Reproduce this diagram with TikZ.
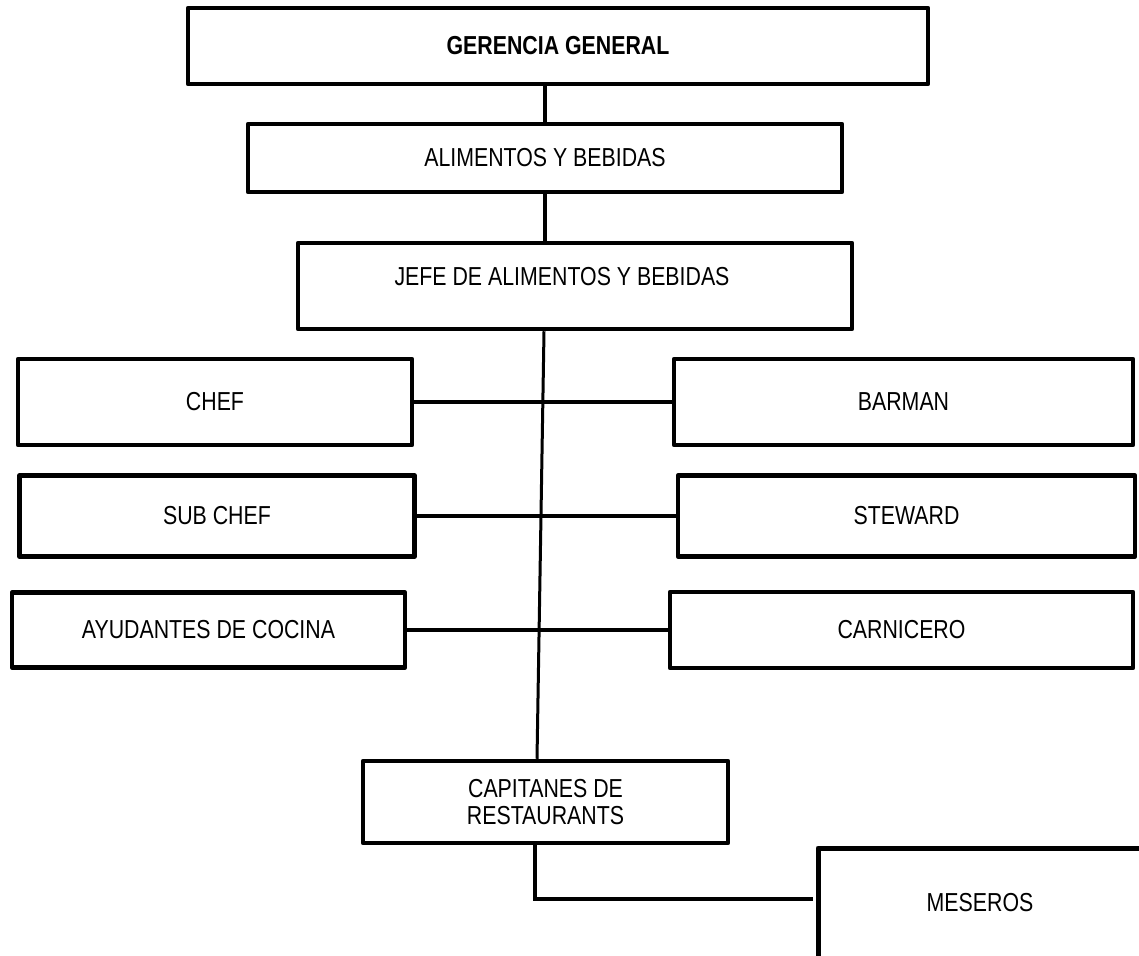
\documentclass[tikz,border=0pt]{standalone}
\usepackage{fontspec}
\setmainfont[FakeStretch=0.82]{Liberation Sans}
\usetikzlibrary{calc}
\begin{document}
\begin{tikzpicture}[x=1pt,y=-1pt,
  every node/.style={font=\fontsize{26}{27}\selectfont, inner sep=0pt},
  box/.style={draw, line width=4.5pt, line join=round, rectangle, align=center},
  link/.style={line width=4pt},
  trunk/.style={line width=3pt}
]
\useasboundingbox (0,0) rectangle (1139,955);

% management chain
\node[box, minimum width=740pt, minimum height=76pt] (ger) at (558,46) {\bfseries GERENCIA GENERAL};
\node[box, minimum width=594pt, minimum height=68pt] (alim) at (545,158) {ALIMENTOS Y BEBIDAS};
\node[box, minimum width=554pt, minimum height=86pt] (jefe) at (575,286) {};
\node (jefetext) at (562,277) {JEFE DE ALIMENTOS Y BEBIDAS};

% kitchen side
\node[box, minimum width=394pt, minimum height=86pt] (chef) at (215,402) {CHEF};
\node[box, minimum width=395pt, minimum height=81pt] (sub) at (217,516) {SUB CHEF};
\node[box, minimum width=393pt, minimum height=75pt] (ayud) at (208.5,630) {AYUDANTES DE COCINA};

% bar and service side
\node[box, minimum width=459pt, minimum height=86pt] (barman) at (903.5,402) {BARMAN};
\node[box, minimum width=457pt, minimum height=81pt] (steward) at (906.5,516) {STEWARD};
\node[box, minimum width=463pt, minimum height=76pt] (carn) at (901.5,630) {CARNICERO};

% restaurant
\node[box, minimum width=365pt, minimum height=82pt] (cap) at (545.5,802) {CAPITANES DE\\RESTAURANTS};

% open frame running off the page
\coordinate (mescorner) at (818,848);
\coordinate (mesin) at (813,899);
\begin{scope}
  \clip (0,0) rectangle (1139,955);
  \draw[line width=5pt, line join=round] (818,975) -- (mescorner) -- (1160,848);
\end{scope}
\node (meseros) at (980,903) {MESEROS};

% connectors
\draw[link] (alim.north) -- (alim.north |- ger.south);
\draw[link] (alim.south) -- (alim.south |- jefe.north);
\draw[trunk] ($(jefe.south)+(-31,0)$) -- ($(cap.north)+(-8.5,0)$);
\draw[link] (chef.east) -- (chef.east -| barman.west);
\draw[link] (sub.east) -- (sub.east -| steward.west);
\draw[link] (ayud.east) -- (ayud.east -| carn.west);
\draw[link] ($(cap.south)+(-10.5,0)$) |- (mesin);
\end{tikzpicture}
\end{document}
